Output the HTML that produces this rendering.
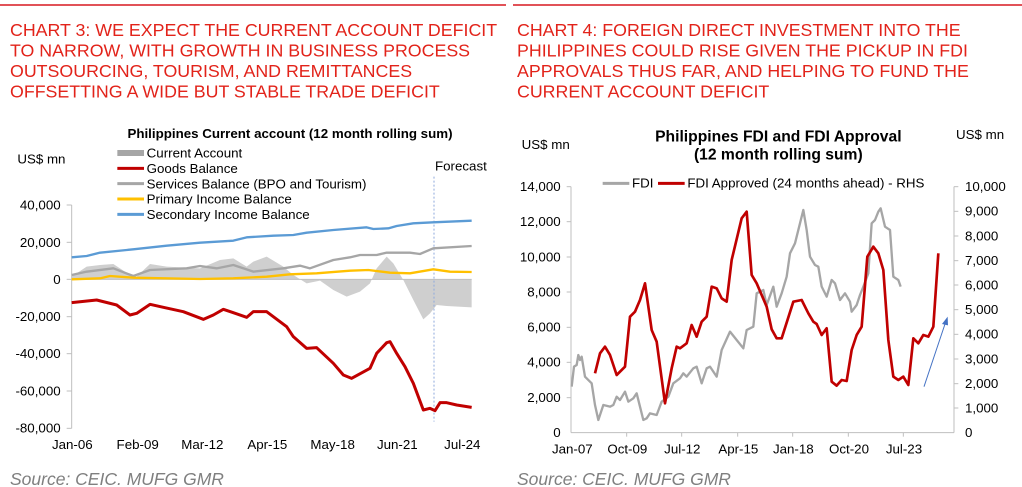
<!DOCTYPE html>
<html><head><meta charset="utf-8"><style>
body{margin:0;background:#fff;width:1022px;height:487px;overflow:hidden}
svg{display:block;font-family:"Liberation Sans",Arial,sans-serif}
</style></head><body>
<svg width="1022" height="487" viewBox="0 0 1022 487">
<line x1="0" y1="5" x2="506" y2="5" stroke="#d71920" stroke-width="1.5"/>
<line x1="513" y1="5" x2="1022" y2="5" stroke="#d71920" stroke-width="1.5"/>
<g fill="#e2231a" font-size="17.8">
<text x="10" y="36">CHART 3: WE EXPECT THE CURRENT ACCOUNT DEFICIT</text>
<text x="10" y="56.5">TO NARROW, WITH GROWTH IN BUSINESS PROCESS</text>
<text x="10" y="77">OUTSOURCING, TOURISM, AND REMITTANCES</text>
<text x="10" y="97.5">OFFSETTING A WIDE BUT STABLE TRADE DEFICIT</text>
<text x="517" y="36">CHART 4: FOREIGN DIRECT INVESTMENT INTO THE</text>
<text x="517" y="56.5">PHILIPPINES COULD RISE GIVEN THE PICKUP IN FDI</text>
<text x="517" y="77">APPROVALS THUS FAR, AND HELPING TO FUND THE</text>
<text x="517" y="97.5">CURRENT ACCOUNT DEFICIT</text>
</g>
<g fill="#7f7f7f" font-size="17.5" font-style="italic">
<text x="10" y="485">Source: CEIC. MUFG GMR</text>
<text x="517" y="485">Source: CEIC. MUFG GMR</text>
</g>

<!-- LEFT CHART -->
<g transform="translate(0,120) scale(0.33333)">
<text x="870" y="54" font-size="40" font-weight="bold" text-anchor="middle">Philippines Current account (12 month rolling sum)</text>
<text x="52" y="130" font-size="40">US$ mn</text>
<rect x="352" y="90" width="80" height="18" fill="#a6a6a6"/>
<line x1="352" y1="145" x2="432" y2="145" stroke="#c00000" stroke-width="9"/>
<line x1="352" y1="191" x2="432" y2="191" stroke="#a6a6a6" stroke-width="9"/>
<line x1="352" y1="237" x2="432" y2="237" stroke="#ffc000" stroke-width="9"/>
<line x1="352" y1="283" x2="432" y2="283" stroke="#5b9bd5" stroke-width="9"/>
<g font-size="40">
<text x="440" y="113">Current Account</text>
<text x="440" y="159">Goods Balance</text>
<text x="440" y="205">Services Balance (BPO and Tourism)</text>
<text x="440" y="251">Primary Income Balance</text>
<text x="440" y="297">Secondary Income Balance</text>
<text x="1305" y="152">Forecast</text>
</g>
<g font-size="40" text-anchor="end">
<text x="182" y="269">40,000</text><text x="182" y="381">20,000</text><text x="182" y="492">0</text>
<text x="182" y="603">-20,000</text><text x="182" y="714">-40,000</text><text x="182" y="826">-60,000</text><text x="182" y="938">-80,000</text>
</g>
<g font-size="40" text-anchor="middle">
<text x="217" y="987">Jan-06</text><text x="413" y="987">Feb-09</text><text x="607" y="987">Mar-12</text><text x="802" y="987">Apr-15</text><text x="998" y="987">May-18</text><text x="1192" y="987">Jun-21</text><text x="1387" y="987">Jul-24</text>
</g>
<polygon fill="#cfcfcf" points="215,478 215,470 260,440 300,435 340,432 390,465 410,470 450,432 500,440 600,445 660,420 700,415 740,440 760,425 800,410 850,440 880,465 920,490 960,482 1000,510 1040,530 1080,515 1110,490 1130,445 1160,410 1180,430 1210,480 1240,540 1270,598 1290,580 1310,555 1340,558 1415,562 1415,478"/>
<line x1="215" y1="255" x2="215" y2="925" stroke="#bfbfbf" stroke-width="3"/>
<g stroke="#bfbfbf" stroke-width="3">
<line x1="200" y1="255" x2="215" y2="255"/><line x1="200" y1="367" x2="215" y2="367"/><line x1="200" y1="478" x2="215" y2="478"/><line x1="200" y1="590" x2="215" y2="590"/><line x1="200" y1="701" x2="215" y2="701"/><line x1="200" y1="813" x2="215" y2="813"/><line x1="200" y1="925" x2="215" y2="925"/>
<line x1="215" y1="478" x2="1415" y2="478"/>
</g>
<line x1="1302" y1="170" x2="1302" y2="905" stroke="#8faadc" stroke-width="3" stroke-dasharray="6,6"/>
<g fill="none" stroke-linejoin="round" stroke-width="7">
<polyline stroke="#5b9bd5" points="215,412 260,408 300,398 400,388 500,377 600,368 700,362 740,352 820,347 880,345 920,338 1000,330 1100,322 1120,327 1165,325 1190,318 1240,310 1300,307 1415,302"/>
<polyline stroke="#a6a6a6" points="215,465 260,455 340,445 400,468 450,450 560,445 600,438 650,445 700,435 760,455 850,445 900,437 930,445 1000,420 1050,412 1080,405 1130,405 1160,398 1230,398 1260,402 1300,385 1415,378"/>
<polyline stroke="#ffc000" points="215,478 300,475 330,468 400,473 600,477 700,475 800,470 870,463 950,460 1050,452 1105,450 1170,458 1230,460 1300,448 1350,455 1415,456"/>
<polyline stroke="#c00000" stroke-width="9" points="215,548 290,540 350,555 390,585 410,580 450,553 490,562 550,575 610,598 640,585 670,568 700,578 740,592 760,575 800,575 860,620 880,650 920,685 950,683 1000,730 1030,765 1055,775 1110,745 1130,700 1160,668 1170,665 1190,700 1215,740 1240,790 1270,870 1290,865 1305,872 1320,848 1340,848 1370,855 1415,862"/>
</g>
</g>

<!-- RIGHT CHART -->
<g transform="translate(510,120) scale(0.33333)">
<text x="805" y="64" font-size="47" font-weight="bold" text-anchor="middle">Philippines FDI and FDI Approval</text>
<text x="805" y="119" font-size="47" font-weight="bold" text-anchor="middle">(12 month rolling sum)</text>
<text x="35" y="87" font-size="40">US$ mn</text>
<text x="1338" y="57" font-size="40">US$ mn</text>
<line x1="278" y1="190" x2="358" y2="190" stroke="#a6a6a6" stroke-width="9"/>
<text x="366" y="203" font-size="40">FDI</text>
<line x1="444" y1="190" x2="524" y2="190" stroke="#c00000" stroke-width="9"/>
<text x="532" y="203" font-size="40">FDI Approved (24 months ahead) - RHS</text>
<g font-size="40" text-anchor="end">
<text x="152" y="213">14,000</text><text x="152" y="318">12,000</text><text x="152" y="424">10,000</text><text x="152" y="529">8,000</text><text x="152" y="635">6,000</text><text x="152" y="740">4,000</text><text x="152" y="846">2,000</text><text x="152" y="951">0</text>
</g>
<g font-size="40" text-anchor="start">
<text x="1365" y="213">10,000</text><text x="1365" y="287">9,000</text><text x="1365" y="361">8,000</text><text x="1365" y="435">7,000</text><text x="1365" y="508">6,000</text><text x="1365" y="582">5,000</text><text x="1365" y="656">4,000</text><text x="1365" y="730">3,000</text><text x="1365" y="804">2,000</text><text x="1365" y="877">1,000</text><text x="1365" y="951">0</text>
</g>
<g font-size="40" text-anchor="middle">
<text x="187" y="1000">Jan-07</text><text x="352" y="1000">Oct-09</text><text x="517" y="1000">Jul-12</text><text x="685" y="1000">Apr-15</text><text x="850" y="1000">Jan-18</text><text x="1017" y="1000">Oct-20</text><text x="1182" y="1000">Jul-23</text>
</g>
<g stroke="#bfbfbf" stroke-width="3">
<line x1="183" y1="200" x2="183" y2="938"/><line x1="1332" y1="200" x2="1332" y2="938"/><line x1="183" y1="938" x2="1332" y2="938"/>
<line x1="170" y1="200" x2="183" y2="200"/><line x1="170" y1="305" x2="183" y2="305"/><line x1="170" y1="411" x2="183" y2="411"/><line x1="170" y1="516" x2="183" y2="516"/><line x1="170" y1="622" x2="183" y2="622"/><line x1="170" y1="727" x2="183" y2="727"/><line x1="170" y1="833" x2="183" y2="833"/>
<line x1="1332" y1="200" x2="1345" y2="200"/><line x1="1332" y1="274" x2="1345" y2="274"/><line x1="1332" y1="348" x2="1345" y2="348"/><line x1="1332" y1="422" x2="1345" y2="422"/><line x1="1332" y1="495" x2="1345" y2="495"/><line x1="1332" y1="569" x2="1345" y2="569"/><line x1="1332" y1="643" x2="1345" y2="643"/><line x1="1332" y1="717" x2="1345" y2="717"/><line x1="1332" y1="791" x2="1345" y2="791"/><line x1="1332" y1="864" x2="1345" y2="864"/>
<line x1="350" y1="938" x2="350" y2="950"/><line x1="515" y1="938" x2="515" y2="950"/><line x1="683" y1="938" x2="683" y2="950"/><line x1="848" y1="938" x2="848" y2="950"/><line x1="1015" y1="938" x2="1015" y2="950"/><line x1="1180" y1="938" x2="1180" y2="950"/>
</g>
<g fill="none" stroke-linejoin="round" stroke-width="7">
<polyline stroke="#a6a6a6" points="185,800 192,740 200,735 205,705 210,720 215,710 225,770 245,790 255,855 265,900 280,855 300,860 310,855 320,830 330,840 345,815 355,845 370,835 380,820 390,860 400,900 410,895 420,880 440,885 455,845 475,830 490,790 510,775 520,760 530,770 550,745 560,740 575,790 590,745 600,740 620,770 635,690 660,635 680,660 700,685 710,630 730,620 740,520 760,510 770,555 790,500 800,560 815,520 830,470 840,400 855,370 870,310 880,270 890,330 900,410 915,435 925,440 935,500 950,530 965,480 975,490 990,540 1005,520 1020,545 1025,575 1040,555 1050,525 1060,500 1075,460 1085,310 1095,300 1105,275 1112,265 1125,320 1140,330 1150,470 1165,480 1172,500"/>
<polyline stroke="#c00000" stroke-width="8" points="255,760 270,700 285,680 300,705 320,765 345,740 360,590 375,575 390,540 405,490 425,630 440,665 465,850 485,745 500,680 510,685 530,670 545,615 560,650 575,605 590,590 605,500 620,505 635,535 650,545 665,420 695,295 710,275 725,465 740,490 770,560 785,628 800,655 815,655 850,545 875,540 895,580 910,605 920,612 935,645 950,625 965,785 980,797 995,780 1010,783 1025,690 1040,645 1055,620 1072,410 1090,380 1105,400 1120,450 1135,660 1150,770 1165,780 1180,770 1195,795 1210,655 1225,670 1240,645 1255,650 1270,620 1285,400"/>
</g>
<line x1="1242" y1="800" x2="1305" y2="612" stroke="#4472c4" stroke-width="3"/>
<polygon points="1313,590 1296,612 1314,616" fill="#4472c4"/>
</g>
</svg>
</body></html>
